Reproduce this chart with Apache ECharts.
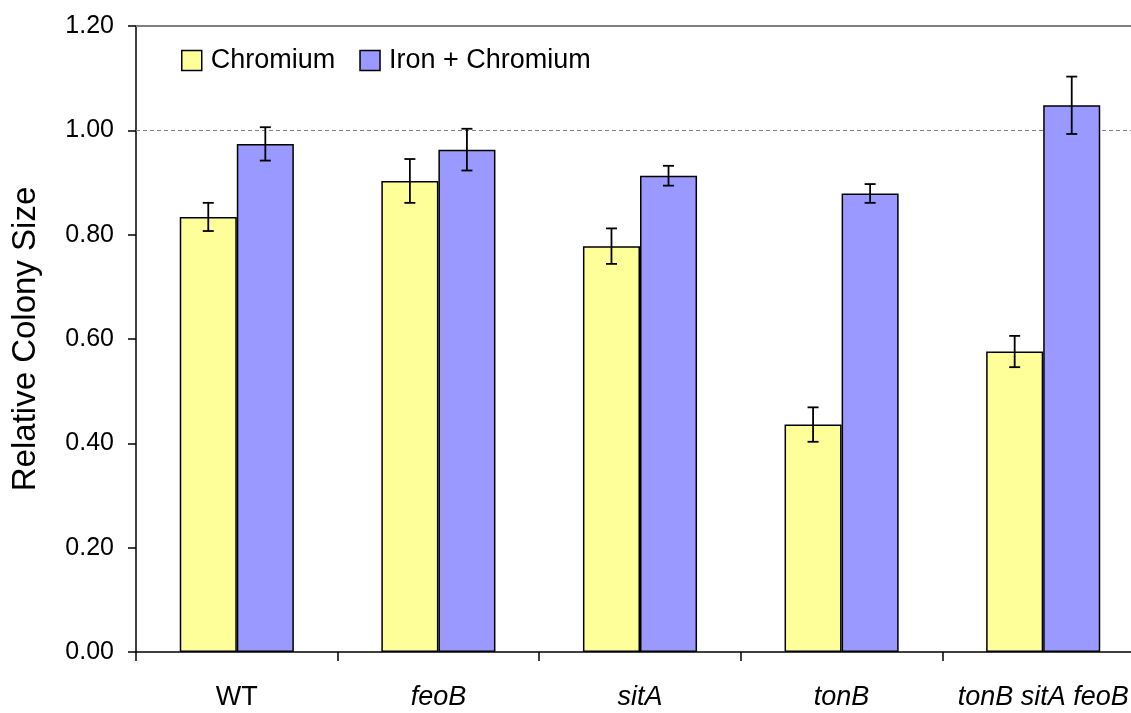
<!DOCTYPE html>
<html>
<head>
<meta charset="utf-8">
<script src="https://cdn.jsdelivr.net/npm/echarts@6/dist/echarts.min.js"></script>
<style>
html,body{margin:0;padding:0;background:#fff;overflow:hidden;width:1131px;height:713px;}
#chart{width:1144px;height:713px;}
</style>
</head>
<body>
<div id="chart"></div>
<script>
const categories = ['WT', 'feoB', 'sitA', 'tonB', 'tonB sitA feoB'];
const italicCats = [false, true, true, true, true];
const seriesNames = ['Chromium', 'Iron + Chromium'];
const chromium = [0.834, 0.903, 0.778, 0.436, 0.576];
const chromiumErr = [0.027, 0.042, 0.034, 0.033, 0.030];
const ironChromium = [0.974, 0.963, 0.913, 0.879, 1.048];
const ironChromiumErr = [0.032, 0.040, 0.019, 0.018, 0.055];
const yTicks = [0, 0.2, 0.4, 0.6, 0.8, 1.0, 1.2];
const refLine = 1.0;

const FONT = "'Liberation Sans', Arial, sans-serif";
const GAP = 0.434;

function errData(vals, errs) {
  return vals.map((v, i) => [i, v - errs[i], v + errs[i]]);
}
function errSeries(vals, errs, sign) {
  return {
    type: 'custom',
    z: 5,
    silent: true,
    data: errData(vals, errs),
    encode: { x: 0, y: [1, 2] },
    renderItem: function (params, api) {
      const xi = api.value(0);
      const lo = api.coord([xi, api.value(1)]);
      const hi = api.coord([xi, api.value(2)]);
      const band = api.size([1, 0])[0];
      const barW = band * (1 - GAP) / 2;
      const cx = lo[0] + sign * barW / 2;
      const cap = 5.5;
      const st = { stroke: '#000', lineWidth: 1.8 };
      return {
        type: 'group',
        children: [
          { type: 'line', shape: { x1: cx, y1: lo[1], x2: cx, y2: hi[1] }, style: st },
          { type: 'line', shape: { x1: cx - cap, y1: lo[1], x2: cx + cap, y2: lo[1] }, style: st },
          { type: 'line', shape: { x1: cx - cap, y1: hi[1], x2: cx + cap, y2: hi[1] }, style: st }
        ]
      };
    }
  };
}

const chart = echarts.init(document.getElementById('chart'), null, { renderer: 'canvas' });
chart.setOption({
  animation: false,
  backgroundColor: '#fff',
  grid: { left: 136, right: 0, top: 26, bottom: 61 },
  legend: {
    left: 176, top: 42,
    icon: 'rect',
    itemWidth: 20, itemHeight: 20, itemGap: 24,
    data: seriesNames,
    itemStyle: { borderColor: '#000', borderWidth: 1.5 },
    textStyle: { fontFamily: FONT, fontSize: 27, color: '#000', padding: [0, 0, 0, 4] }
  },
  xAxis: {
    type: 'category',
    data: categories,
    axisLine: { lineStyle: { color: '#000', width: 1.5 } },
    axisTick: { show: true, length: 9, lineStyle: { color: '#000', width: 1.5 } },
    axisLabel: {
      margin: 32,
      formatter: function (v, i) { return italicCats[i] ? '{i|' + v + '}' : '{n|' + v + '}'; },
      rich: {
        n: { fontFamily: FONT, fontSize: 27, color: '#000' },
        i: { fontFamily: FONT, fontSize: 27, fontStyle: 'italic', color: '#000' }
      }
    }
  },
  yAxis: {
    type: 'value',
    min: yTicks[0], max: yTicks[yTicks.length - 1], interval: 0.2,
    name: 'Relative Colony Size',
    nameLocation: 'middle',
    nameGap: 94,
    nameTextStyle: { fontFamily: FONT, fontSize: 33, color: '#000' },
    axisLine: { show: true, lineStyle: { color: '#000', width: 1.5 } },
    axisTick: { show: true, length: 8, lineStyle: { color: '#000', width: 1.5 } },
    splitLine: { show: false },
    axisLabel: {
      margin: 22,
      fontFamily: FONT, fontSize: 25, color: '#000',
      formatter: v => v.toFixed(2)
    }
  },
  series: [
    {
      name: seriesNames[0],
      type: 'bar',
      data: chromium,
      barGap: '0%',
      barCategoryGap: (GAP * 100) + '%',
      itemStyle: { color: '#FFFF99', borderColor: '#000', borderWidth: 1.5 },
      markLine: {
        silent: true, symbol: 'none', label: { show: false },
        z: 1,
        data: [
          { yAxis: refLine, lineStyle: { color: '#808080', type: [4, 3], width: 1 } },
          { yAxis: yTicks[yTicks.length - 1], lineStyle: { color: '#808080', type: 'solid', width: 2 } }
        ]
      }
    },
    {
      name: seriesNames[1],
      type: 'bar',
      data: ironChromium,
      barGap: '0%',
      barCategoryGap: (GAP * 100) + '%',
      itemStyle: { color: '#9999FF', borderColor: '#000', borderWidth: 1.5 }
    },
    errSeries(chromium, chromiumErr, -1),
    errSeries(ironChromium, ironChromiumErr, 1)
  ]
});
</script>
</body>
</html>
